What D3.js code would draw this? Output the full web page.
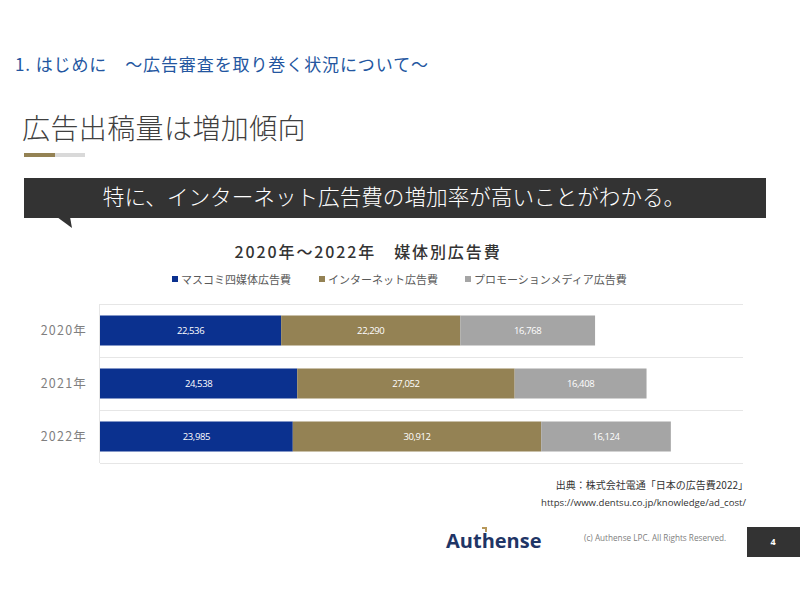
<!DOCTYPE html>
<html>
<head>
<meta charset="utf-8">
<script src="https://cdn.jsdelivr.net/npm/d3@7/dist/d3.min.js"></script>
<style>
  html, body { margin: 0; padding: 0; background: #fff; }
  svg { display: block; font-family: "Noto Sans CJK JP", "Noto Sans", sans-serif; }
</style>
</head>
<body>
<svg id="chart" width="800" height="600"></svg>
<script>
// ---- data ----
const years = ["2020年", "2021年", "2022年"];
const seriesNames = ["マスコミ四媒体広告費", "インターネット広告費", "プロモーションメディア広告費"];
const massMedia = [22536, 24538, 23985];
const internet = [22290, 27052, 30912];
const promotion = [16768, 16408, 16124];
const seriesColors = ["#0b318f", "#948254", "#a5a5a5"];

const svg = d3.select("#chart");

// ---- slide header ----
svg.append("text").attr("x", 15).attr("y", 71)
  .attr("font-size", 17).attr("fill", "#2356a0").attr("letter-spacing", 0.9)
  .text("1. はじめに　～広告審査を取り巻く状況について～");

svg.append("text").attr("x", 22).attr("y", 139)
  .attr("font-size", 28).attr("font-weight", 300).attr("fill", "#404040")
  .attr("letter-spacing", 0.4)
  .text("広告出稿量は増加傾向");

svg.append("rect").attr("x", 24).attr("y", 153).attr("width", 31).attr("height", 4).attr("fill", "#948254");
svg.append("rect").attr("x", 55).attr("y", 153).attr("width", 30).attr("height", 4).attr("fill", "#d9d9d9");

// banner
svg.append("rect").attr("x", 24).attr("y", 178).attr("width", 742).attr("height", 40).attr("fill", "#333333");
svg.append("path").attr("d", "M57,217 L70,217 L72,228 Z").attr("fill", "#333333");
svg.append("text").attr("x", 394).attr("y", 205).attr("text-anchor", "middle")
  .attr("font-size", 21.6).attr("font-weight", 300).attr("fill", "#ffffff")
  .text("特に、インターネット広告費の増加率が高いことがわかる。");

// ---- chart title & legend ----
svg.append("text").attr("x", 368).attr("y", 258).attr("text-anchor", "middle")
  .attr("font-size", 16).attr("font-weight", 500).attr("fill", "#333333")
  .attr("letter-spacing", 1.9)
  .text("2020年～2022年　媒体別広告費");

const legendX = [172, 319, 465];
const legend = svg.append("g");
seriesNames.forEach((name, i) => {
  legend.append("rect").attr("x", legendX[i]).attr("y", 276).attr("width", 6).attr("height", 6).attr("fill", seriesColors[i]);
  legend.append("text").attr("x", legendX[i] + 9).attr("y", 283.5)
    .attr("font-size", 11).attr("fill", "#595959").text(name);
});

// ---- scales ----
const x = d3.scaleLinear().domain([0, 80000]).range([100, 743]);
const y = d3.scaleBand().domain(years).range([304, 463]).paddingInner(0.434).paddingOuter(0.217);

// gridlines (category separators)
const sepY = [304, 357, 410, 463];
svg.append("g").selectAll("line").data(sepY).join("line")
  .attr("x1", 100).attr("x2", 743).attr("y1", d => d + 0.5).attr("y2", d => d + 0.5)
  .attr("stroke", "#e6e6e6").attr("stroke-width", 1);
svg.append("line").attr("x1", 99.5).attr("x2", 99.5).attr("y1", 304).attr("y2", 463)
  .attr("stroke", "#e6e6e6");

// stacked data
const table = years.map((yr, i) => ({ year: yr, s0: massMedia[i], s1: internet[i], s2: promotion[i] }));
const stack = d3.stack().keys(["s0", "s1", "s2"])(table);

const fmt = d3.format(",");
stack.forEach((layer, li) => {
  const g = svg.append("g");
  g.selectAll("rect").data(layer).join("rect")
    .attr("x", d => x(d[0]))
    .attr("width", d => x(d[1]) - x(d[0]))
    .attr("y", d => y(d.data.year))
    .attr("height", y.bandwidth())
    .attr("fill", seriesColors[li]);
  g.selectAll("text").data(layer).join("text")
    .attr("x", d => (x(d[0]) + x(d[1])) / 2)
    .attr("y", d => y(d.data.year) + y.bandwidth() / 2 + 3.5)
    .attr("text-anchor", "middle")
    .attr("font-family", "'Open Sans', sans-serif")
    .attr("font-size", 9.5).attr("fill", "#ffffff")
    .attr("letter-spacing", -0.4)
    .text(d => fmt(d[1] - d[0]));
});

// y axis labels
const yAxis = d3.axisLeft(y).tickSize(0).tickPadding(0);
const ya = svg.append("g").attr("transform", "translate(87,0)").call(yAxis);
ya.select(".domain").remove();
ya.selectAll("text").attr("font-size", 12.5).attr("fill", "#7f7f7f")
  .attr("letter-spacing", 1.2)
  .attr("font-family", "'Noto Sans CJK JP', sans-serif")
  .attr("dy", "0.35em");

// ---- source ----
svg.append("text").attr("x", 748).attr("y", 489).attr("text-anchor", "end")
  .attr("font-size", 10).attr("fill", "#333333")
  .text("出典：株式会社電通「日本の広告費2022」");
svg.append("text").attr("x", 746).attr("y", 506).attr("text-anchor", "end")
  .attr("font-family", "'Open Sans', sans-serif")
  .attr("font-size", 9.6).attr("fill", "#333333")
  .text("https://www.dentsu.co.jp/knowledge/ad_cost/");

// ---- footer ----
svg.append("text").attr("x", 446).attr("y", 548)
  .attr("font-family", "'Open Sans', sans-serif")
  .attr("font-size", 20).attr("font-weight", "bold").attr("fill", "#1f3566")
  .text("Authense");
svg.append("path").attr("d", "M482,527 L487,527 L487,532 L485,532 L485,529 L482,529 Z").attr("fill", "#b8985a");

svg.append("text").attr("x", 584).attr("y", 541)
  .attr("font-family", "'Open Sans', sans-serif")
  .attr("font-size", 8.2).attr("fill", "#808080")
  .text("(c) Authense LPC. All Rights Reserved.");

svg.append("rect").attr("x", 747).attr("y", 527).attr("width", 53).attr("height", 30).attr("fill", "#333333");
svg.append("text").attr("x", 773).attr("y", 545).attr("text-anchor", "middle")
  .attr("font-family", "'Open Sans', sans-serif")
  .attr("font-size", 9).attr("font-weight", "bold").attr("fill", "#ffffff")
  .text("4");
</script>
</body>
</html>
